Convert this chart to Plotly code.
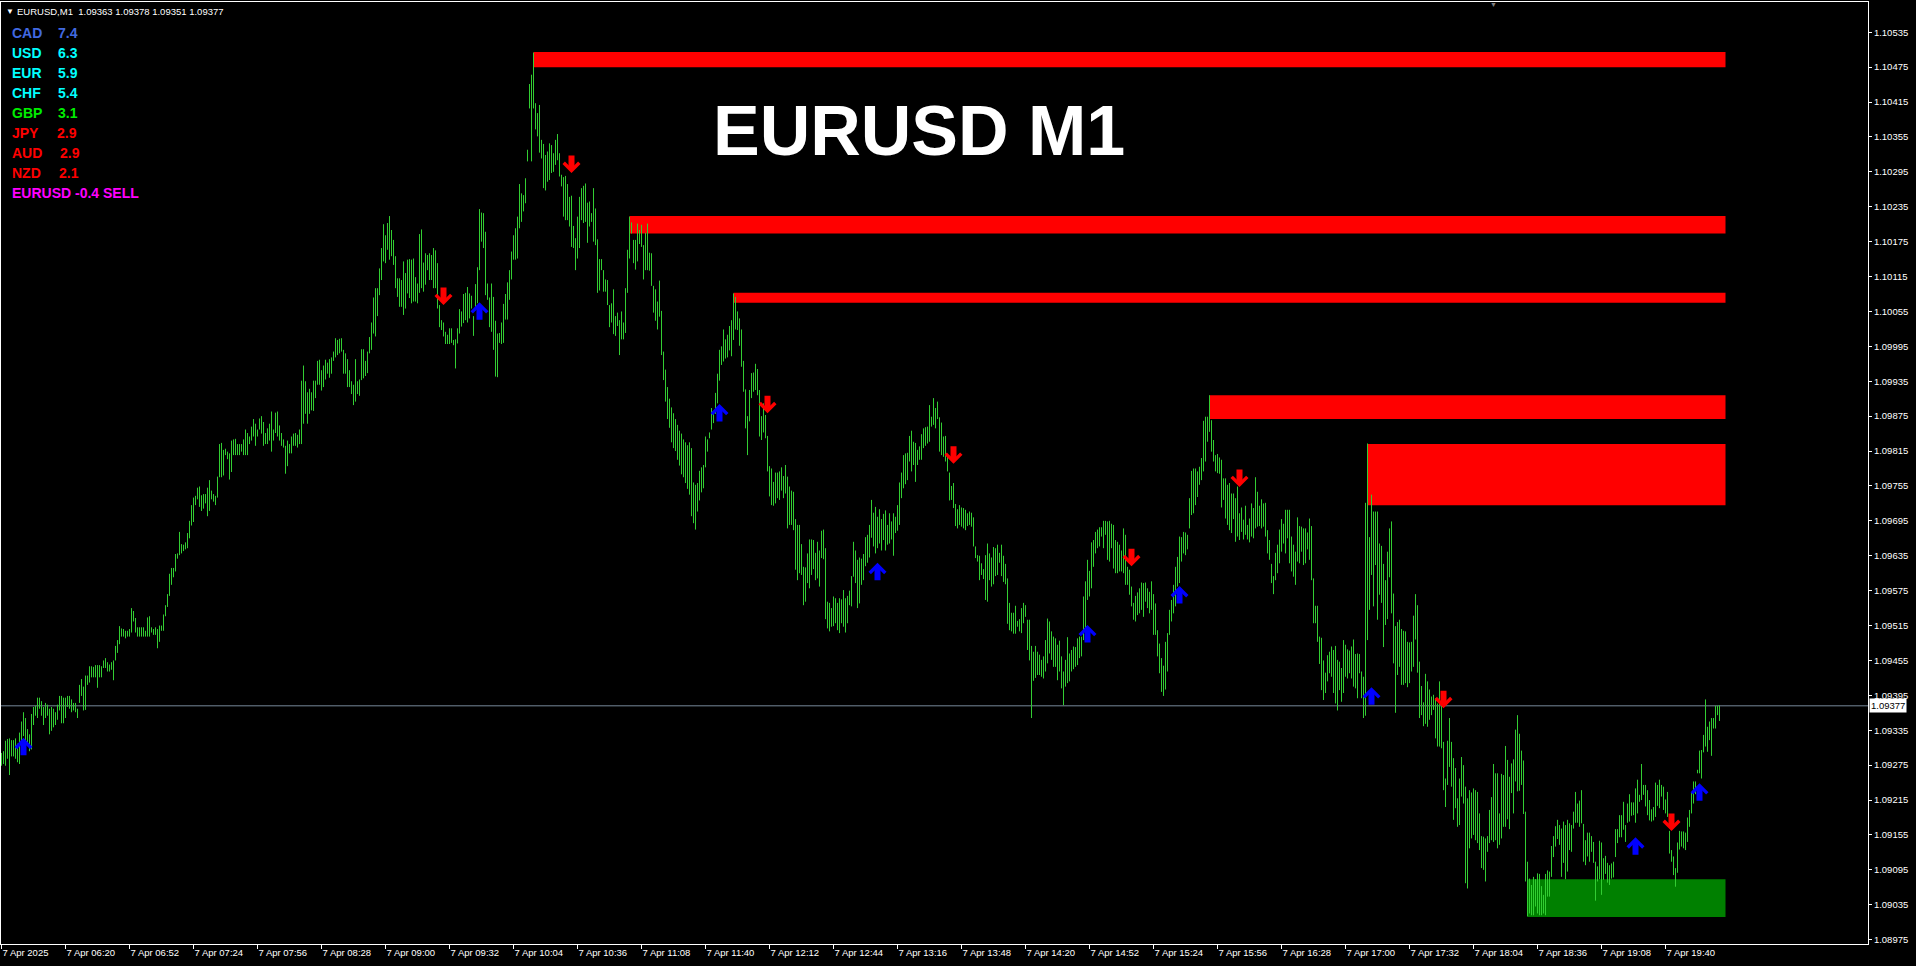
import pandas as pd
import plotly.graph_objects as go

# ---------------- data ----------------
SYMBOL = "EURUSD"
PERIOD = "M1"
DAY = "2025-04-07"
FIRST_BAR = "2025-04-07 05:48"
BASE = 1.09
POINT = 0.00001

# M1 bar highs / lows in points above 1.09000 (one value per minute, from 05:48)
bar_high_pts = [
    296, 299, 317, 320, 321, 318, 318, 321, 312, 331,
    350, 366, 356, 337, 328, 363, 375, 377, 391, 391,
    385, 375, 382, 379, 372, 375, 372, 366, 379, 394,
    394, 391, 391, 394, 394, 388, 382, 382, 372, 413,
    423, 410, 429, 429, 445, 445, 444, 447, 447, 447,
    445, 455, 459, 452, 448, 452, 455, 480, 490, 514,
    510, 509, 506, 506, 509, 545, 540, 528, 512, 512,
    512, 512, 506, 529, 531, 512, 509, 512, 509, 515,
    515, 534, 550, 569, 604, 614, 614, 638, 639, 676,
    655, 654, 658, 674, 695, 722, 735, 738, 752, 754,
    739, 741, 741, 752, 765, 747, 741, 738, 771, 827,
    829, 817, 819, 814, 811, 833, 835, 836, 827, 827,
    827, 835, 852, 846, 840, 857, 870, 862, 852, 871,
    875, 865, 846, 854, 862, 883, 852, 881, 883, 859,
    846, 835, 824, 833, 827, 840, 845, 846, 843, 852,
    936, 962, 935, 916, 922, 916, 936, 936, 970, 972,
    954, 962, 972, 967, 973, 976, 986, 1009, 1006, 1008,
    1009, 989, 983, 973, 954, 935, 929, 973, 935, 938,
    990, 990, 970, 986, 1011, 1036, 1079, 1095, 1095, 1129,
    1164, 1205, 1186, 1207, 1219, 1195, 1178, 1150, 1112, 1112,
    1109, 1141, 1121, 1144, 1145, 1144, 1146, 1114, 1103, 1188,
    1196, 1139, 1155, 1152, 1155, 1152, 1164, 1160, 1138, 1066,
    1040, 1036, 1020, 1015, 1026, 1026, 1006, 1007, 1026, 1059,
    1055, 1085, 1087, 1097, 1086, 1082, 1047, 1102, 1131, 1231,
    1225, 1224, 1192, 1103, 1079, 1103, 1080, 1039, 1017, 1018,
    1036, 1068, 1085, 1105, 1126, 1158, 1186, 1198, 1218, 1274,
    1258, 1255, 1284, 1333, 1446, 1462, 1500, 1413, 1396, 1410,
    1350, 1343, 1324, 1330, 1344, 1341, 1327, 1350, 1360, 1327,
    1290, 1286, 1288, 1274, 1252, 1254, 1202, 1181, 1218, 1252,
    1267, 1271, 1275, 1242, 1244, 1224, 1267, 1232, 1179, 1145,
    1145, 1126, 1110, 1109, 1066, 1069, 1093, 1047, 1053, 1040,
    1055, 1036, 1095, 1161, 1218, 1208, 1178, 1178, 1206, 1195,
    1204, 1169, 1190, 1206, 1156, 1155, 1099, 1093, 1072, 1108,
    1056, 986, 955, 925, 905, 890, 880, 870, 860, 850,
    845, 835, 830, 825, 830, 820, 761, 757, 760, 781,
    787, 791, 840, 835, 847, 889, 884, 915, 948, 989,
    995, 1024, 1007, 1015, 1030, 1040, 1086, 1080, 1055, 1043,
    1024, 970, 921, 875, 920, 949, 950, 965, 956, 920,
    875, 897, 877, 841, 789, 785, 762, 778, 778, 780,
    787, 772, 791, 771, 754, 747, 745, 698, 688, 688,
    655, 616, 615, 639, 663, 663, 662, 640, 659, 644,
    678, 680, 648, 556, 554, 545, 565, 562, 554, 562,
    560, 576, 562, 566, 575, 600, 659, 644, 628, 632,
    630, 638, 667, 671, 688, 731, 709, 719, 702, 715,
    698, 707, 713, 688, 708, 694, 708, 702, 722, 761,
    778, 808, 811, 812, 841, 850, 831, 829, 817, 823,
    844, 854, 856, 857, 894, 874, 906, 889, 900, 873,
    864, 840, 841, 809, 778, 755, 760, 724, 715, 722,
    718, 717, 714, 708, 711, 709, 701, 651, 636, 635,
    622, 612, 636, 656, 639, 632, 650, 648, 654, 640,
    654, 635, 621, 596, 554, 537, 537, 549, 523, 526,
    545, 554, 550, 525, 525, 480, 470, 480, 470, 465,
    456, 462, 490, 527, 522, 505, 496, 493, 482, 489,
    462, 436, 456, 495, 467, 473, 479, 478, 493, 496,
    496, 565, 591, 628, 609, 658, 662, 676, 680, 684,
    684, 695, 695, 694, 695, 690, 688, 662, 659, 654,
    644, 682, 671, 616, 611, 582, 554, 566, 572, 579,
    589, 588, 589, 579, 573, 591, 569, 553, 507, 484,
    459, 446, 487, 502, 542, 559, 585, 616, 633, 668,
    667, 676, 675, 671, 734, 781, 785, 785, 780, 788,
    803, 867, 874, 874, 911, 868, 834, 808, 810, 804,
    800, 768, 768, 757, 760, 742, 742, 734, 754, 708,
    718, 697, 721, 688, 699, 725, 717, 770, 745, 721,
    732, 725, 726, 679, 662, 621, 600, 640, 654, 680,
    698, 690, 714, 714, 714, 668, 654, 642, 701, 686,
    685, 682, 682, 675, 699, 686, 596, 549, 549, 496,
    494, 455, 434, 464, 470, 479, 473, 480, 456, 453,
    442, 490, 482, 474, 472, 479, 491, 466, 467, 466,
    436, 427, 726, 828, 667, 740, 711, 711, 711, 656,
    652, 621, 593, 642, 682, 694, 570, 514, 521, 525,
    509, 506, 505, 487, 486, 487, 532, 569, 550, 453,
    411, 383, 432, 419, 405, 393, 396, 390, 381, 419,
    399, 315, 252, 317, 356, 315, 287, 270, 218, 252,
    289, 275, 238, 218, 232, 228, 235, 232, 229, 192,
    153, 152, 149, 153, 198, 220, 277, 261, 261, 192,
    260, 258, 308, 284, 255, 278, 285, 336, 361, 329,
    300, 283, 195, 109, 80, 69, 83, 79, 89, 88,
    67, 52, 88, 94, 92, 136, 153, 170, 181, 172,
    166, 178, 172, 181, 175, 172, 195, 229, 209, 214,
    232, 174, 146, 159, 159, 153, 143, 109, 101, 145,
    142, 115, 119, 107, 103, 106, 109, 165, 165, 189,
    189, 212, 172, 209, 225, 211, 211, 235, 250, 224,
    277, 241, 241, 232, 215, 199, 203, 245, 241, 250,
    241, 238, 216, 229, 162, 129, 118, 98, 142, 162,
    161, 161, 159, 185, 198, 227, 247, 247, 267, 300,
    301, 327, 388, 341, 350, 356, 356, 377, 377, 378,
]
bar_low_pts = [
    274, 277, 274, 286, 258, 290, 290, 286, 280, 277,
    305, 325, 312, 309, 299, 302, 344, 360, 356, 372,
    360, 344, 356, 360, 328, 334, 340, 344, 353, 369,
    347, 347, 356, 375, 372, 366, 369, 366, 356, 382,
    394, 369, 370, 413, 417, 426, 426, 426, 408, 426,
    426, 442, 442, 436, 436, 439, 421, 455, 468, 483,
    496, 496, 493, 496, 496, 503, 522, 503, 496, 496,
    496, 496, 496, 496, 496, 503, 499, 499, 476, 487,
    506, 506, 531, 547, 566, 585, 598, 608, 630, 636,
    639, 643, 646, 648, 665, 687, 693, 722, 732, 719,
    712, 716, 725, 703, 712, 732, 728, 722, 735, 770,
    770, 773, 808, 801, 766, 779, 808, 808, 808, 808,
    814, 808, 808, 808, 827, 833, 840, 824, 840, 852,
    845, 824, 827, 827, 833, 814, 833, 846, 840, 833,
    824, 821, 776, 789, 811, 811, 824, 824, 821, 827,
    827, 862, 879, 862, 879, 885, 884, 906, 929, 929,
    919, 925, 938, 948, 941, 948, 970, 976, 980, 983,
    986, 948, 948, 925, 925, 913, 894, 900, 913, 910,
    937, 940, 944, 949, 983, 989, 1017, 1012, 1047, 1083,
    1109, 1141, 1138, 1161, 1144, 1150, 1135, 1095, 1080, 1063,
    1063, 1049, 1060, 1086, 1078, 1069, 1072, 1072, 1069, 1087,
    1095, 1089, 1101, 1126, 1109, 1109, 1095, 1095, 1060, 1028,
    1023, 1012, 999, 999, 999, 1001, 997, 957, 1000, 1017,
    1029, 1035, 1040, 1036, 1043, 1060, 1013, 1063, 1069, 1126,
    1175, 1164, 1083, 1075, 1028, 1020, 989, 943, 942, 1001,
    999, 1001, 1041, 1041, 1075, 1110, 1144, 1144, 1146, 1198,
    1209, 1227, 1241, 1313, 1404, 1313, 1404, 1368, 1356, 1328,
    1318, 1267, 1263, 1278, 1281, 1293, 1295, 1307, 1315, 1287,
    1270, 1218, 1212, 1212, 1201, 1166, 1164, 1126, 1146, 1164,
    1212, 1207, 1209, 1173, 1201, 1209, 1175, 1169, 1087, 1091,
    1126, 1089, 1089, 1066, 1028, 1036, 1016, 1013, 1030, 980,
    1007, 1007, 1018, 1087, 1146, 1189, 1138, 1127, 1141, 1171,
    1166, 1110, 1126, 1126, 1125, 1099, 1053, 1039, 1024, 1046,
    980, 937, 900, 870, 855, 830, 820, 815, 800, 790,
    775, 770, 760, 750, 740, 703, 691, 680, 711, 730,
    744, 751, 787, 814, 837, 852, 863, 879, 897, 936,
    963, 969, 974, 976, 988, 978, 1006, 1024, 1023, 996,
    960, 917, 854, 808, 866, 906, 917, 920, 911, 840,
    834, 847, 837, 780, 737, 722, 721, 725, 734, 731,
    747, 734, 742, 682, 688, 688, 679, 611, 593, 605,
    602, 550, 556, 588, 579, 602, 612, 593, 596, 582,
    631, 629, 526, 510, 505, 513, 514, 519, 507, 502,
    519, 513, 503, 519, 550, 548, 599, 588, 545, 553,
    585, 593, 617, 623, 632, 666, 651, 639, 648, 656,
    644, 662, 644, 654, 656, 663, 635, 674, 678, 688,
    734, 751, 758, 765, 797, 780, 791, 762, 791, 800,
    800, 820, 824, 828, 831, 857, 860, 854, 870, 814,
    808, 805, 797, 780, 730, 731, 717, 686, 682, 688,
    685, 682, 679, 686, 688, 685, 651, 631, 625, 593,
    602, 595, 559, 556, 593, 582, 586, 600, 602, 623,
    600, 590, 586, 518, 507, 505, 501, 501, 513, 505,
    502, 519, 530, 473, 455, 356, 420, 425, 430, 430,
    427, 424, 436, 450, 467, 456, 444, 444, 421, 436,
    407, 378, 410, 416, 419, 436, 440, 444, 447, 459,
    462, 490, 496, 559, 565, 579, 616, 639, 648, 651,
    668, 648, 671, 628, 625, 648, 613, 605, 605, 608,
    608, 605, 585, 585, 568, 548, 525, 522, 533, 536,
    542, 530, 556, 545, 536, 542, 499, 499, 462, 433,
    401, 394, 405, 436, 499, 522, 536, 548, 582, 588,
    625, 639, 636, 646, 682, 705, 708, 722, 736, 757,
    765, 780, 797, 831, 848, 814, 797, 780, 777, 776,
    718, 731, 699, 688, 679, 674, 698, 659, 668, 662,
    676, 663, 671, 663, 658, 668, 665, 682, 685, 686,
    682, 685, 668, 639, 628, 588, 569, 593, 605, 622,
    642, 656, 639, 665, 622, 608, 599, 585, 625, 622,
    642, 619, 622, 646, 628, 593, 519, 519, 487, 449,
    404, 387, 399, 419, 433, 427, 399, 381, 369, 404,
    384, 399, 427, 424, 433, 424, 410, 407, 390, 433,
    390, 356, 360, 490, 542, 602, 548, 619, 525, 568,
    554, 478, 516, 526, 598, 536, 450, 365, 430, 444,
    413, 413, 416, 409, 416, 436, 444, 491, 434, 356,
    361, 342, 346, 341, 353, 361, 370, 321, 307, 307,
    304, 232, 203, 241, 272, 238, 181, 201, 169, 172,
    221, 209, 72, 63, 132, 149, 155, 146, 141, 129,
    98, 95, 75, 126, 141, 146, 143, 146, 132, 138,
    149, 169, 169, 182, 165, 227, 192, 247, 230, 231,
    241, 191, 75, 15, 20, 17, 17, 32, 20, 17,
    17, 20, 17, 49, 49, 83, 117, 135, 148, 138,
    83, 107, 79, 92, 129, 126, 166, 176, 176, 169,
    175, 109, 103, 118, 109, 126, 107, 42, 75, 79,
    52, 78, 88, 73, 69, 80, 82, 117, 141, 151,
    151, 164, 143, 176, 178, 188, 189, 176, 192, 212,
    215, 224, 204, 189, 180, 178, 180, 186, 205, 201,
    221, 198, 192, 186, 123, 109, 86, 66, 90, 130,
    135, 132, 129, 143, 169, 192, 209, 225, 261, 261,
    252, 297, 307, 298, 318, 291, 338, 338, 361, 351,
]

# supply (red) / demand (green) zones
zone_start = ["10:14", "11:02", "11:54", "15:52", "17:11", "18:31"]
zone_end = "20:10"
zone_top = [1.10501, 1.10219, 1.10087, 1.09911, 1.09827, 1.09079]
zone_bottom = [1.10475, 1.10189, 1.10070, 1.09870, 1.09722, 1.09014]
zone_kind = ["supply", "supply", "supply", "supply", "supply", "demand"]

# signal arrows (tip price)
buy_times = ["05:59", "09:47", "11:47", "13:06", "14:51", "15:37", "17:13", "19:25", "19:57"]
buy_prices = [1.09322, 1.10071, 1.09896, 1.09623, 1.09516, 1.09583, 1.09409, 1.09151, 1.09244]
sell_times = ["09:29", "10:33", "12:11", "13:44", "15:13", "16:07", "17:49", "19:43"]
sell_prices = [1.10066, 1.10293, 1.09880, 1.09793, 1.09617, 1.09753, 1.09373, 1.09162]

# currency strength panel
currencies = ["CAD", "USD", "EUR", "CHF", "GBP", "JPY", "AUD", "NZD"]
strength = [7.4, 6.3, 5.9, 5.4, 3.1, 2.9, 2.9, 2.1]
pair_score = -0.4
pair_signal = "SELL"

# header OHLC of the current bar
header_ohlc = [1.09363, 1.09378, 1.09351, 1.09377]
bid_price = 1.09377

# axis ticks
xtick_times = ["05:48", "06:20", "06:52", "07:24", "07:56", "08:28", "09:00", "09:32",
               "10:04", "10:36", "11:08", "11:40", "12:12", "12:44", "13:16", "13:48",
               "14:20", "14:52", "15:24", "15:56", "16:28", "17:00", "17:32", "18:04",
               "18:36", "19:08", "19:40"]
xtick_labels = ["7 Apr 2025", "7 Apr 06:20", "7 Apr 06:52", "7 Apr 07:24", "7 Apr 07:56",
                "7 Apr 08:28", "7 Apr 09:00", "7 Apr 09:32", "7 Apr 10:04", "7 Apr 10:36",
                "7 Apr 11:08", "7 Apr 11:40", "7 Apr 12:12", "7 Apr 12:44", "7 Apr 13:16",
                "7 Apr 13:48", "7 Apr 14:20", "7 Apr 14:52", "7 Apr 15:24", "7 Apr 15:56",
                "7 Apr 16:28", "7 Apr 17:00", "7 Apr 17:32", "7 Apr 18:04", "7 Apr 18:36",
                "7 Apr 19:08", "7 Apr 19:40"]
ytick_vals = [1.08975, 1.09035, 1.09095, 1.09155, 1.09215, 1.09275, 1.09335, 1.09395,
              1.09455, 1.09515, 1.09575, 1.09635, 1.09695, 1.09755, 1.09815, 1.09875,
              1.09935, 1.09995, 1.10055, 1.10115, 1.10175, 1.10235, 1.10295, 1.10355,
              1.10415, 1.10475, 1.10535]

# ---------------- styling / layout ----------------
W, H = 1916, 966
ML, MR, MT, MB = 1, 48, 2, 22
PW = W - ML - MR
PH = H - MT - MB

def px_x(px):
    return (px - ML) / PW

def px_y(py):
    return 1 - (py - MT) / PH

BAR_COLOR = "#32CD32"
ZONE_COLOR = {"supply": "#FF0000", "demand": "#008000"}
CUR_COLOR = {"CAD": "#4169E1", "USD": "#00FFFF", "EUR": "#00FFFF", "CHF": "#00FFFF",
             "GBP": "#00EE00", "JPY": "#FF0000", "AUD": "#FF0000", "NZD": "#FF0000"}
TICK_FONT = dict(family="Liberation Sans, Arial, sans-serif", size=9.5, color="white")

times = pd.date_range(FIRST_BAR, periods=len(bar_high_pts), freq="min")
highs = [BASE + h * POINT for h in bar_high_pts]
lows = [BASE + l * POINT for l in bar_low_pts]

bx, by = [], []
for t, lo, hi in zip(times, lows, highs):
    bx += [t, t, None]
    by += [lo, hi, None]

fig = go.Figure()
fig.add_trace(go.Scatter(x=bx, y=by, mode="lines", line=dict(color=BAR_COLOR, width=1),
                         hoverinfo="skip", showlegend=False))

# zones
for s, top, bot, kind in zip(zone_start, zone_top, zone_bottom, zone_kind):
    fig.add_shape(type="rect", xref="x", yref="y", x0=f"{DAY} {s}", x1=f"{DAY} {zone_end}",
                  y0=bot, y1=top, fillcolor=ZONE_COLOR[kind], line=dict(width=0), layer="below")

# bid line
fig.add_shape(type="line", xref="paper", yref="y", x0=0, x1=1, y0=bid_price, y1=bid_price,
              line=dict(color="#778899", width=1), layer="below")

# arrows
for t, p in zip(buy_times, buy_prices):
    fig.add_annotation(x=f"{DAY} {t}", y=p, xref="x", yref="y", text="", showarrow=True,
                       arrowhead=4, arrowsize=0.5, arrowwidth=6, arrowcolor="#0000FF",
                       ax=0, ay=19, standoff=0)
for t, p in zip(sell_times, sell_prices):
    fig.add_annotation(x=f"{DAY} {t}", y=p, xref="x", yref="y", text="", showarrow=True,
                       arrowhead=4, arrowsize=0.5, arrowwidth=6, arrowcolor="#FF0000",
                       ax=0, ay=-19, standoff=0)

# header
fig.add_annotation(x=px_x(4), y=px_y(12), xref="paper", yref="paper", text="▼",
                   showarrow=False, xanchor="left", yanchor="middle",
                   font=dict(family="Liberation Sans, Arial", size=8, color="white"))
fig.add_annotation(x=px_x(15), y=px_y(12), xref="paper", yref="paper",
                   text=f"{SYMBOL},{PERIOD}  " + " ".join(f"{v:.5f}" for v in header_ohlc),
                   showarrow=False, xanchor="left", yanchor="middle", font=TICK_FONT)
fig.add_annotation(x=px_x(1493), y=px_y(5), xref="paper", yref="paper", text="▼",
                   showarrow=False, xanchor="center", yanchor="middle",
                   font=dict(family="Liberation Sans, Arial", size=7, color="#808080"))

# currency strength
val_x = [55.5, 55.5, 55.5, 55.5, 55.5, 54.5, 57.5, 56.5]
for k, (c, s) in enumerate(zip(currencies, strength)):
    yy = px_y(33 + 20 * k)
    f = dict(family="Liberation Sans, Arial", size=14, color=CUR_COLOR[c])
    fig.add_annotation(x=px_x(9.5), y=yy, xref="paper", yref="paper", text=f"<b>{c}</b>",
                       showarrow=False, xanchor="left", yanchor="middle", font=f)
    fig.add_annotation(x=px_x(val_x[k]), y=yy, xref="paper", yref="paper", text=f"<b>{s:.1f}</b>",
                       showarrow=False, xanchor="left", yanchor="middle", font=f)
fig.add_annotation(x=px_x(9.5), y=px_y(193), xref="paper", yref="paper",
                   text=f"<b>{SYMBOL} {pair_score:.1f} {pair_signal}</b>",
                   showarrow=False, xanchor="left", yanchor="middle",
                   font=dict(family="Liberation Sans, Arial", size=14, color="#FF00FF"))

# big title
fig.add_annotation(x=px_x(919), y=px_y(131), xref="paper", yref="paper",
                   text=f"<b>{SYMBOL} {PERIOD}</b>", showarrow=False,
                   xanchor="center", yanchor="middle",
                   font=dict(family="Liberation Sans, Arial", size=70, color="white"))

# bid price label on the axis
fig.add_annotation(x=1, y=bid_price, xref="paper", yref="y", text=f"{bid_price:.5f}",
                   showarrow=False, xanchor="left", yanchor="middle", xshift=1,
                   bgcolor="white", borderpad=1,
                   font=dict(family="Liberation Sans, Arial", size=9.5, color="black"))

x0 = pd.Timestamp(FIRST_BAR) - pd.Timedelta(seconds=15)
x1 = x0 + pd.Timedelta(minutes=PW / 2)
y_top = 1.10587
y_bot = y_top - PH / 58167.0

fig.update_layout(
    width=W, height=H, margin=dict(l=ML, r=MR, t=MT, b=MB, pad=0),
    paper_bgcolor="black", plot_bgcolor="black", showlegend=False, hovermode=False,
    xaxis=dict(type="date", range=[x0, x1], showgrid=False, zeroline=False,
               showline=True, linecolor="white", linewidth=1, mirror=True,
               ticks="outside", ticklen=4, tickcolor="white", tickwidth=1,
               tickvals=[f"{DAY} {t}" for t in xtick_times], ticktext=xtick_labels,
               ticklabelposition="outside right", tickfont=TICK_FONT),
    yaxis=dict(side="right", range=[y_bot, y_top], showgrid=False, zeroline=False,
               showline=True, linecolor="white", linewidth=1, mirror=True,
               ticks="outside", ticklen=3, tickcolor="white", tickwidth=1,
               tickvals=ytick_vals, ticktext=[f"{v:.5f}" for v in ytick_vals],
               tickfont=TICK_FONT),
)

fig.write_html("out.html", include_plotlyjs=True, full_html=True,
               config={"displayModeBar": False, "staticPlot": True},
               post_script="document.body.style.margin='0';document.body.style.overflow='hidden';")
